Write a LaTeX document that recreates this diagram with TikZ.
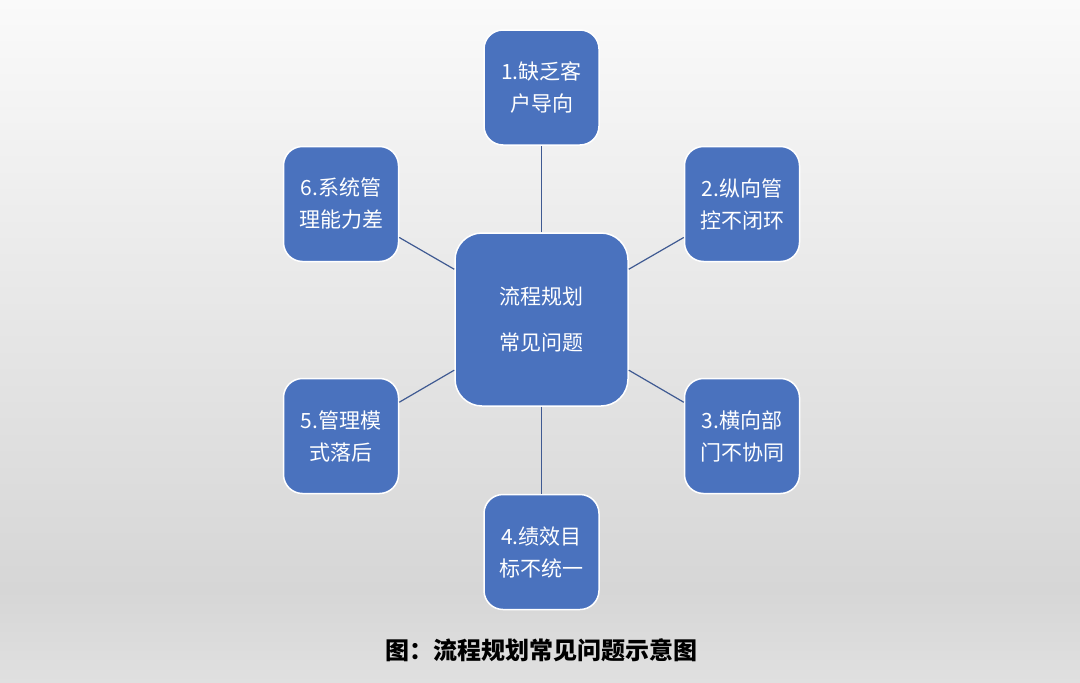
\documentclass[tikz,border=0pt]{standalone}
\usepackage{fontspec}
\newfontfamily\cjk{Noto Sans CJK SC}
\definecolor{boxblue}{HTML}{4A72BE}
\definecolor{linecol}{HTML}{3F5A92}
\definecolor{bgtop}{HTML}{FAFAFA}
\definecolor{bgmid}{HTML}{D6D6D6}
\definecolor{bgbot}{HTML}{E0E0E0}
\tikzset{
  box/.style={draw=white, line width=1.5pt, fill=boxblue, rounded corners=19pt,
    minimum width=115pt, minimum height=115pt, text=white, align=center,
    inner sep=0pt, font=\cjk\fontsize{21}{32}\selectfont},
  hub/.style={box, minimum width=173pt, minimum height=173pt, rounded corners=27pt,
    font=\cjk\fontsize{21}{46}\selectfont},
  conn/.style={draw=linecol, line width=1.2pt},
  caption/.style={font=\cjk\bfseries\fontsize{24}{28}\selectfont, text=black}
}
\begin{document}
\begin{tikzpicture}[x=1pt,y=-1pt]
\useasboundingbox (0,0) rectangle (1080,683);
\shade[top color=bgtop, bottom color=bgmid] (0,0) rectangle (1080,590);
\shade[top color=bgmid, bottom color=bgbot] (0,590) rectangle (1080,683);
\node[hub] (c) at (541.5,319.5) {流程规划\\常见问题};
\node[box] (n1) at (541.5,87.5) {1.缺乏客\\户导向};
\node[box] (n2) at (742,204) {2.纵向管\\控不闭环};
\node[box] (n3) at (742,436) {3.横向部\\门不协同};
\node[box] (n4) at (541.5,552) {4.绩效目\\标不统一};
\node[box] (n5) at (341,436) {5.管理模\\式落后};
\node[box] (n6) at (341,204) {6.系统管\\理能力差};
\foreach \n in {n1,n2,n3,n4,n5,n6} \draw[conn] (c) -- (\n);
\node[caption] (cap) at (541,650) {图：流程规划常见问题示意图};
\end{tikzpicture}
\end{document}
